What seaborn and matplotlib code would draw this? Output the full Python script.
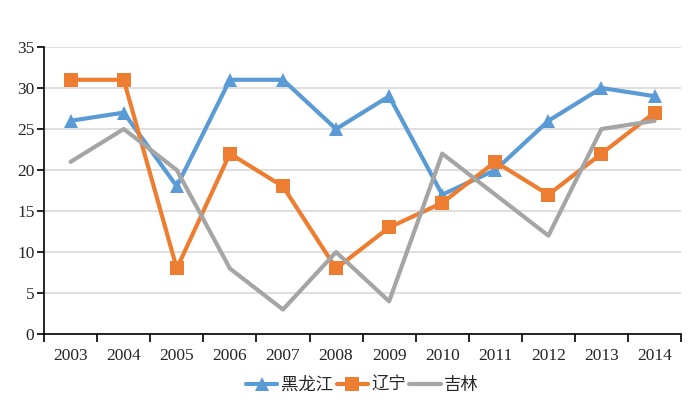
import seaborn as sns
import pandas as pd
import numpy as np
from matplotlib import pyplot as plt

# data
years = ["2003", "2004", "2005", "2006", "2007", "2008",
         "2009", "2010", "2011", "2012", "2013", "2014"]
heilongjiang = [26, 27, 18, 31, 31, 25, 29, 17, 20, 26, 30, 29]
liaoning = [31, 31, 8, 22, 18, 8, 13, 16, 21, 17, 22, 27]
jilin = [21, 25, 20, 8, 3, 10, 4, 22, 17, 12, 25, 26]

series_names = ["黑龙江", "辽宁", "吉林"]
series_values = [heilongjiang, liaoning, jilin]
colors = ["#5B9BD5", "#ED7D31", "#A5A5A5"]
markers = ["^", "s", None]

sns.set_style("white")
plt.rcParams['font.family'] = ['Liberation Serif', 'Noto Sans CJK SC', 'DejaVu Sans']

fig = plt.figure(figsize=(7, 4.12), dpi=100)
ax = fig.add_axes([0.063, 0.189, 0.91, 0.697])

x = np.arange(len(years))
for name, vals, col, mk in zip(series_names, series_values, colors, markers):
    df = pd.DataFrame({"x": x, "y": vals})
    sns.lineplot(
        data=df, x="x", y="y", ax=ax,
        color=col, linewidth=3,
        marker=mk, markersize=10 if mk else 0,
        markeredgewidth=0, label=name,
    )

ax.set_xlim(-0.5, len(years) - 0.5)
ax.set_ylim(0, 35)
ax.set_yticks(range(0, 36, 5))
ax.set_xticks(x)
ax.set_xticklabels(years)
ax.set_xticks(np.arange(-0.5, len(years), 1), minor=True)
ax.tick_params(axis='x', which='major', bottom=True, length=0, pad=10, labelsize=12.5)
ax.tick_params(axis='x', which='minor', bottom=True, length=6, width=1.2, color='black', direction='out')
ax.tick_params(axis='y', left=True, length=5, width=1.2, color='black', direction='out', labelsize=12.5, pad=2)
ax.set_xlabel("")
ax.set_ylabel("")

ax.grid(axis='y', color='#d9d9d9', linewidth=1.2)
ax.set_axisbelow(True)
for side in ['top', 'right']:
    ax.spines[side].set_visible(False)
for side in ['left', 'bottom']:
    ax.spines[side].set_color('black')
    ax.spines[side].set_linewidth(1.2)

ax.legend(loc='upper center', bbox_to_anchor=(0.5, -0.09), ncol=3, frameon=False,
          handlelength=1.8, handletextpad=0.2, columnspacing=0.2,
          prop={'family': ['Noto Sans CJK SC'], 'size': 12.5})

plt.savefig("out.png", dpi=100)
